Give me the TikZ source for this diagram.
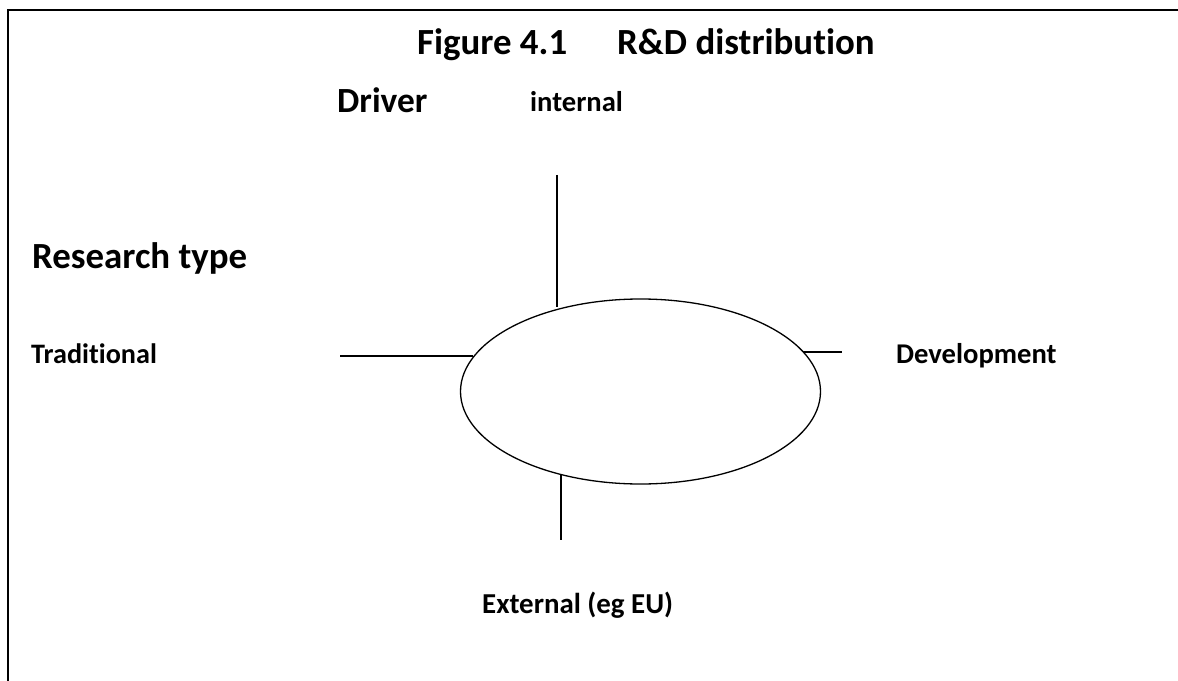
\documentclass[tikz,border=0pt]{standalone}
\usepackage{fontspec}
\setmainfont{Carlito}[Ligatures=NoCommon]
\usepackage{tikz}
\usetikzlibrary{positioning}
\usetikzlibrary{shapes.geometric}

\begin{document}
\begin{tikzpicture}[x=1bp,y=-1bp,
    label/.style={inner sep=0pt, anchor=base west, font=\bfseries\fontsize{#1}{#1}\selectfont},
    spoke/.style={line width=1.3bp}]

      \useasboundingbox (0,0) rectangle (1178,681);
      \fill[white] (0,0) rectangle (1178,681);

      \def\rxell{360bp}
      \def\ryell{185bp}

      % frame
      \coordinate (frametop) at (1178,10);
      \coordinate (framecorner) at (8,10);
      \coordinate (framebottom) at (8,681);
      \draw[line width=2bp] (frametop) -- (framecorner) -- (framebottom);

      \node (title)    [label=37] at (417,55) {Figure 4.1\hspace{50bp}R\&D distribution};
      \node (driver)   [label=35.5] at (337,113) {Driver};
      \node (internal) [label=28.7] at (530,112) {internal};
      \node (restype)  [label=37] at (32,268) {Research type};
      \node (trad)     [label=28.3] at (31,363) {Traditional};
      \node (devel)    [label=28.7] at (896,363) {Development};
      \node (external) [label=29] at (482,613) {External (eg EU)};

      \node (ell) at (640.5,391.5) [draw, ellipse, line width=1.3bp, inner sep=0pt,
        minimum width=\rxell, minimum height=\ryell] {};

      \coordinate (topfree)   at (557,175);
      \coordinate (topend)    at (557,307);
      \coordinate (leftfree)  at (340,356);
      \coordinate (leftend)   at (473,356);
      \coordinate (rightfree) at (842,352);
      \coordinate (rightend)  at (803,352);
      \coordinate (botfree)   at (561,540);
      \coordinate (botend)    at (561,475);

      \draw[spoke] (topfree) -- (topend);
      \draw[spoke] (leftfree) -- (leftend);
      \draw[spoke] (rightend) -- (rightfree);
      \draw[spoke] (botend) -- (botfree);

    \end{tikzpicture}
\end{document}
